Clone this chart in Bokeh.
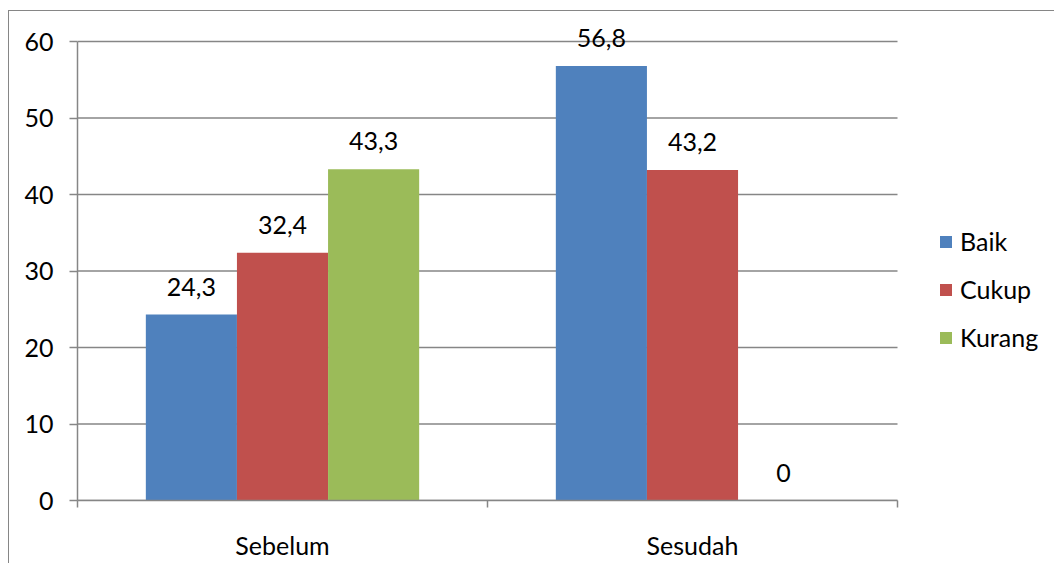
from bokeh.plotting import figure
from bokeh.models import (ColumnDataSource, FixedTicker, Legend, LegendItem,
                          Range1d, InlineStyleSheet)
from bokeh.core.properties import value
from bokeh.embed import file_html
from bokeh.resources import INLINE

categories = ["Sebelum", "Sesudah"]
series = ["Baik", "Cukup", "Kurang"]
baik = [24.3, 56.8]
cukup = [32.4, 43.2]
kurang = [43.3, 0.0]
colors = ["#4F81BD", "#C0504D", "#9BBB59"]
y_ticks = [0, 10, 20, 30, 40, 50, 60]

FONT = "Lato"
FS = "25px"
GREY = "#868686"

W, H = 1054, 563
left, right_px, bottom_px = 77, 897, 500
top_frame = 18
ppu = (bottom_px - 41) / 60.0
y_end = (bottom_px - top_frame) / ppu
ncat = len(categories)
x_end = ncat * (W - left) / (right_px - left)

p = figure(width=W, height=H, output_backend="svg", toolbar_location=None,
           x_range=Range1d(0, x_end), y_range=Range1d(0, y_end),
           min_border_left=left, min_border_right=0,
           min_border_top=top_frame, min_border_bottom=H - bottom_px)
p.outline_line_color = None
p.background_fill_color = "white"
p.border_fill_color = "white"
p.xgrid.visible = False
p.ygrid.visible = False

# horizontal gridlines limited to the category area
p.segment(x0=[0] * len(y_ticks), x1=[ncat] * len(y_ticks), y0=y_ticks, y1=y_ticks,
          line_color=GREY, line_width=1.5)

bar_w = 1.0 / 4.5
offsets = [-bar_w, 0.0, bar_w]
vals = [baik, cukup, kurang]
items = []
for s, v, c, off in zip(series, vals, colors, offsets):
    xs = [i + 0.5 + off for i in range(ncat)]
    src = ColumnDataSource(dict(x=xs, top=v,
                                lab=[("%g" % t).replace(".", ",") for t in v]))
    r = p.vbar(x="x", top="top", width=bar_w, bottom=0, source=src,
               fill_color=c, line_color=None)
    p.text(x="x", y="top", text="lab", source=src, text_align="center",
           text_baseline="alphabetic", y_offset=-28,
           text_font=value(FONT), text_font_size=FS, text_color="black")
    items.append(LegendItem(label=s, renderers=[r]))

# y axis
ya = p.yaxis[0]
ya.ticker = FixedTicker(ticks=y_ticks)
ya.bounds = (0, 60)
ya.axis_line_color = GREY
ya.axis_line_width = 1.5
ya.major_tick_line_color = GREY
ya.major_tick_line_width = 1.5
ya.major_tick_out = 8
ya.major_tick_in = 0
ya.minor_tick_line_color = None
ya.major_label_text_font = FONT
ya.major_label_text_font_size = FS
ya.major_label_text_color = "black"
ya.major_label_standoff = 16

# x axis
xa = p.xaxis[0]
xa.bounds = (0, ncat)
xa.ticker = FixedTicker(ticks=[i + 0.5 for i in range(ncat)],
                        minor_ticks=list(range(ncat + 1)))
xa.major_label_overrides = {i + 0.5: c for i, c in enumerate(categories)}
xa.axis_line_color = GREY
xa.axis_line_width = 1.5
xa.major_tick_line_color = None
xa.major_tick_out = 0
xa.major_tick_in = 0
xa.minor_tick_line_color = GREY
xa.minor_tick_line_width = 1.5
xa.minor_tick_out = 7
xa.minor_tick_in = 0
xa.major_label_text_font = FONT
xa.major_label_text_font_size = FS
xa.major_label_text_color = "black"
xa.major_label_standoff = 22

legend = Legend(items=items, location=(861, 148), orientation="vertical",
                glyph_width=15, glyph_height=15, label_height=24,
                spacing=18, label_standoff=7, padding=0, margin=0,
                border_line_color=None, background_fill_alpha=0,
                label_text_font=FONT, label_text_font_size=FS,
                label_text_color="black")
p.add_layout(legend, "center")

p.stylesheets = [InlineStyleSheet(css=(
    ":host { position: relative; }"
    ":host::after { content: ''; position: absolute; left: 8px; top: 10px; "
    "width: 2000px; height: 2000px; border-left: 1.5px solid #868686; "
    "border-top: 1.5px solid #868686; pointer-events: none; z-index: 10; }"
))]

open("out.html", "w").write(file_html(p, INLINE))
